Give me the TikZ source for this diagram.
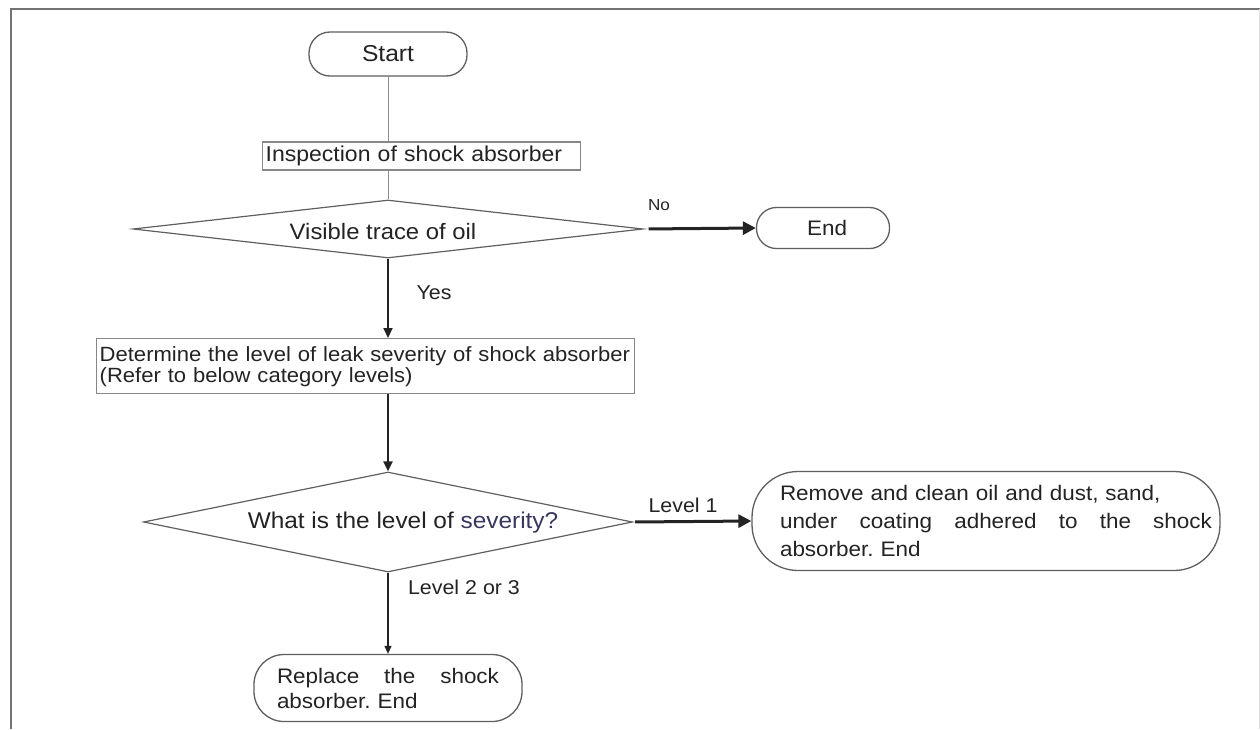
\documentclass[tikz,border=0pt]{standalone}
\usepackage{fontspec}
\setmainfont[FakeStretch=1.07]{Liberation Sans}
\usetikzlibrary{arrows.meta,shapes.geometric}
\definecolor{ink}{RGB}{35,35,35}
\definecolor{edge}{RGB}{95,95,95}
\definecolor{boxedge}{RGB}{135,135,135}
\definecolor{sev}{RGB}{55,55,95}
\frenchspacing
\begin{document}
\begin{tikzpicture}[x=1pt,y=-1pt,
  every node/.style={font=\fontsize{21}{22}\selectfont, text=ink},
  term/.style={draw=edge, line width=1.3pt, fill=white},
  rectbox/.style={draw=boxedge, line width=1.4pt, fill=white, inner xsep=3pt, inner ysep=2pt},
  dia/.style={draw=edge, line width=1.2pt, shape=diamond, inner sep=0pt},
  thinline/.style={draw=black!45, line width=1pt},
  bigarrow/.style={draw=ink, line width=3pt, -{Triangle[length=13pt,width=13pt]}},
  midarrow/.style={draw=ink, line width=2pt, -{Triangle[length=10pt,width=9pt]}},
  smallarrow/.style={draw=ink, line width=1.2pt, -{Triangle[length=8pt,width=7pt]}},
  lbl/.style={font=\fontsize{20}{22}\selectfont}
]
\useasboundingbox (0,0) rectangle (1260,729);
% frame
\draw[black!55, line width=2.2pt] (11,729) -- (11,9) -- (1260,9);
\draw[black!12, line width=1pt] (1259,9) -- (1259,729);

% nodes
\node[term, rounded corners=21pt, minimum width=158pt, minimum height=44pt, font=\fontsize{23}{24}\selectfont] (start) at (388,54) {Start};
\node[rectbox, anchor=west, text width=312pt, align=left, minimum height=28pt, font=\fontsize{21.5}{22}\selectfont] (insp) at (262,156) {Inspection of shock absorber};
\node[dia, minimum width=510pt, minimum height=58pt] (d1) at (388,229) {};
\node[font=\fontsize{22.3}{23}\selectfont] (d1t) at (383,232) {Visible trace of oil};
\node[term, rounded corners=20pt, minimum width=133pt, minimum height=41pt] (end) at (823,228) {\hspace*{8pt}End};
\node[rectbox, anchor=north west, text width=532pt, align=left, minimum height=55pt, inner ysep=3pt,
  font=\fontsize{20.6}{21}\selectfont] (det) at (96,338)
  {\mbox{Determine the level of leak severity of shock absorber}\\\mbox{(Refer to below category levels)}};
\node[dia, minimum width=489pt, minimum height=100pt] (d2) at (388,522) {};
\node[font=\fontsize{22.8}{24}\selectfont] (d2t) at (403,523) {What is the level of \textcolor{sev}{severity?}};
\node[term, rounded corners=46pt, minimum width=468pt, minimum height=99pt, text width=452pt, align=left,
  font=\fontsize{21}{28}\selectfont] (rem) at (986,521)
  {\hspace*{20pt}Remove and clean oil and dust, sand,\\\hspace*{20pt}\hbox to 432pt{under\hfill coating\hfill adhered\hfill to\hfill the\hfill shock}\\\hspace*{20pt}absorber. End};
\node[term, rounded corners=30pt, minimum width=268pt, minimum height=67pt, text width=222pt, align=left,
  font=\fontsize{21}{25}\selectfont] (rep) at (388,688)
  {\leavevmode\hbox to 222pt{Replace\hfill the\hfill shock}\\absorber. End};

% labels
\node[font=\fontsize{16}{18}\selectfont] (no) at (659,205) {No};
\node[lbl] (yes) at (434,293) {Yes};
\node[lbl] (lv1) at (683,505) {Level 1};
\node[lbl] (lv23) at (464,587) {Level 2 or 3};

% connectors
\draw[thinline] (start.south) -- (start.south |- insp.north);
\draw[thinline] (start.south |- insp.south) -- (d1.north);
\draw[bigarrow, shorten <=5pt] (d1.east) -- (end.west);
\draw[midarrow] (d1.south) -- (d1.south |- det.north);
\draw[midarrow] (d1.south |- det.south) -- (d2.north);
\draw[bigarrow, shorten <=2pt] (d2.east) -- (rem.west);
\draw[smallarrow] (d2.south) -- (rep.north);
\end{tikzpicture}
\end{document}
